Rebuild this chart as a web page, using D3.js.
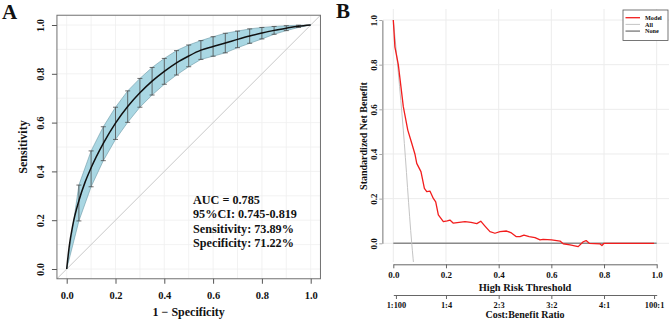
<!DOCTYPE html>
<html>
<head>
<meta charset="utf-8">
<script src="https://cdn.jsdelivr.net/npm/d3@7"></script>
<style>
body { margin: 0; background: #fff; }
text { font-family: "Liberation Serif", "Times New Roman", serif; font-weight: bold; }
</style>
</head>
<body>
<script>
// ---- panel A: ROC curve ----
var rocFpr  = [0, 0.01, 0.025, 0.05, 0.075, 0.1, 0.15, 0.2, 0.25, 0.3, 0.35, 0.4, 0.45, 0.5, 0.55, 0.6, 0.65, 0.7, 0.75, 0.8, 0.85, 0.9, 0.95, 1];
var rocSens = [0, 0.09, 0.18, 0.28, 0.355, 0.415, 0.515, 0.598, 0.666, 0.722, 0.77, 0.81, 0.845, 0.873, 0.897, 0.912, 0.926, 0.941, 0.955, 0.967, 0.978, 0.987, 0.995, 1];

// CI of sensitivity at fixed 1-specificity steps
var ciFpr   = [0, 0.05, 0.1, 0.15, 0.2, 0.25, 0.3, 0.35, 0.4, 0.45, 0.5, 0.55, 0.6, 0.65, 0.7, 0.75, 0.8, 0.85, 0.9, 0.95, 1];
var ciUpper = [0, 0.344, 0.484, 0.583, 0.663, 0.730, 0.781, 0.826, 0.863, 0.895, 0.918, 0.936, 0.952, 0.966, 0.975, 0.984, 0.990, 0.994, 0.997, 0.999, 1];
var ciLower = [0, 0.197, 0.337, 0.444, 0.531, 0.601, 0.663, 0.713, 0.757, 0.795, 0.829, 0.859, 0.872, 0.886, 0.907, 0.925, 0.943, 0.962, 0.977, 0.990, 1];

var rocTicks = [0, 0.2, 0.4, 0.6, 0.8, 1];
var rocStats = ["AUC = 0.785", "95%CI: 0.745-0.819", "Sensitivity: 73.89%", "Specificity: 71.22%"];

// ---- panel B: decision curve ----
var dcaThr = [0, 0.006, 0.019, 0.038, 0.055, 0.07, 0.082, 0.089, 0.105, 0.118, 0.127, 0.139, 0.152, 0.161, 0.171, 0.19, 0.205, 0.215, 0.228, 0.25, 0.272, 0.295, 0.317, 0.332, 0.348, 0.367, 0.386, 0.405, 0.43, 0.446, 0.466, 0.481, 0.496, 0.516, 0.538, 0.557, 0.569, 0.601, 0.633, 0.645, 0.671, 0.702, 0.721, 0.732, 0.744, 0.785, 0.792, 0.8, 0.99];
var dcaModel = [1, 0.88, 0.80, 0.612, 0.507, 0.448, 0.40, 0.358, 0.321, 0.246, 0.231, 0.234, 0.201, 0.186, 0.127, 0.097, 0.10, 0.104, 0.09, 0.094, 0.097, 0.094, 0.088, 0.099, 0.077, 0.052, 0.045, 0.052, 0.055, 0.048, 0.03, 0.03, 0.037, 0.03, 0.025, 0.015, 0.018, 0.015, 0.01, -0.002, -0.007, -0.015, 0.007, 0.012, 0, -0.003, -0.01, 0, 0];
var allThr = [0, 0.038, 0.07, 0.08];
var allNB  = [1, 0.507, 0, -0.13];
var noneThr = [0, 1];
var noneNB  = [0, 0];

var dcaTicks = [0, 0.2, 0.4, 0.6, 0.8, 1];
var cbTicks  = [0.01, 0.2, 0.4, 0.6, 0.8, 0.99];
var cbLabels = ["1:100", "1:4", "2:3", "3:2", "4:1", "100:1"];
var legendNames = ["Model", "All", "None"];

var W = 669, H = 319;
var svg = d3.select("body").append("svg")
	.attr("width", W).attr("height", H);

var fmt = d3.format(".1f");

// ================= A =================
var xA = d3.scaleLinear().domain([0, 1]).range([66.7, 310.7]);
var yA = d3.scaleLinear().domain([0, 1]).range([269, 25]);
var boxL = xA(-0.04), boxR = xA(1.04), boxT = yA(1.04), boxB = yA(-0.04);

svg.append("clipPath").attr("id", "clipA")
	.append("rect").attr("x", boxL).attr("y", boxT)
	.attr("width", boxR - boxL).attr("height", boxB - boxT);

var gA = svg.append("g");
var plotA = gA.append("g").attr("clip-path", "url(#clipA)");

// grid
var grid01 = d3.range(0, 11).map(function(i) { return i / 10; });
plotA.selectAll(".gv").data(grid01).enter().append("line")
	.attr("x1", function(d) { return xA(d); }).attr("x2", function(d) { return xA(d); })
	.attr("y1", boxT).attr("y2", boxB)
	.attr("stroke", "#efefef").attr("stroke-width", 0.8);
plotA.selectAll(".gh").data(grid01).enter().append("line")
	.attr("y1", function(d) { return yA(d); }).attr("y2", function(d) { return yA(d); })
	.attr("x1", boxL).attr("x2", boxR)
	.attr("stroke", "#efefef").attr("stroke-width", 0.8);

// diagonal
plotA.append("line")
	.attr("x1", xA(-0.04)).attr("y1", yA(-0.04))
	.attr("x2", xA(1.04)).attr("y2", yA(1.04))
	.attr("stroke", "#c8c8c8").attr("stroke-width", 1);

// CI band
var bandPts = ciFpr.map(function(f, i) { return [xA(f), yA(ciUpper[i])]; })
	.concat(ciFpr.map(function(f, i) { return [xA(f), yA(ciLower[i])]; }).reverse());
plotA.append("path")
	.attr("d", d3.line()(bandPts) + "Z")
	.attr("fill", "#a9d7e3")
	.attr("stroke", "#6c98a6").attr("stroke-width", 0.6);

// error bars
var bars = ciFpr.slice(1, ciFpr.length - 1);
var barG = plotA.selectAll(".eb").data(bars).enter().append("g")
	.attr("stroke", "#4a4a4a").attr("stroke-width", 0.8);
barG.append("line")
	.attr("x1", function(d) { return xA(d); }).attr("x2", function(d) { return xA(d); })
	.attr("y1", function(d, i) { return yA(ciUpper[i + 1]); })
	.attr("y2", function(d, i) { return yA(ciLower[i + 1]); });
barG.append("line")
	.attr("x1", function(d) { return xA(d) - 2.5; }).attr("x2", function(d) { return xA(d) + 2.5; })
	.attr("y1", function(d, i) { return yA(ciUpper[i + 1]); })
	.attr("y2", function(d, i) { return yA(ciUpper[i + 1]); });
barG.append("line")
	.attr("x1", function(d) { return xA(d) - 2.5; }).attr("x2", function(d) { return xA(d) + 2.5; })
	.attr("y1", function(d, i) { return yA(ciLower[i + 1]); })
	.attr("y2", function(d, i) { return yA(ciLower[i + 1]); });

// ROC line
plotA.append("path")
	.datum(rocFpr.map(function(f, i) { return [f, rocSens[i]]; }))
	.attr("d", d3.line()
		.x(function(d) { return xA(d[0]); })
		.y(function(d) { return yA(d[1]); })
		.curve(d3.curveMonotoneX))
	.attr("fill", "none").attr("stroke", "#111").attr("stroke-width", 1.5);

// box
gA.append("rect")
	.attr("x", boxL).attr("y", boxT)
	.attr("width", boxR - boxL).attr("height", boxB - boxT)
	.attr("fill", "none").attr("stroke", "#707070").attr("stroke-width", 1);

// axes
var axA_x = gA.append("g").attr("transform", "translate(0," + boxB + ")")
	.call(d3.axisBottom(xA).tickValues(rocTicks).tickFormat(fmt).tickSize(5).tickPadding(8).tickSizeOuter(0));
var axA_y = gA.append("g").attr("transform", "translate(" + boxL + ",0)")
	.call(d3.axisLeft(yA).tickValues(rocTicks).tickFormat(fmt).tickSize(5).tickSizeOuter(0));
[axA_x, axA_y].forEach(function(a) {
	a.select(".domain").remove();
	a.selectAll("line").attr("stroke", "#555");
	a.selectAll("text").attr("font-size", 10.5).attr("fill", "#111")
		.attr("font-family", "Liberation Serif, serif").attr("font-weight", "bold");
});
axA_y.selectAll(".tick text")
	.attr("x", null).attr("dy", null).attr("text-anchor", "middle")
	.attr("transform", "translate(-12.5,0) rotate(-90)");

gA.append("text").attr("x", xA(0.5)).attr("y", 315.5)
	.attr("text-anchor", "middle").attr("font-size", 12).attr("fill", "#111")
	.text("1 \u2212 Specificity");
gA.append("text").attr("transform", "translate(27," + yA(0.5) + ") rotate(-90)")
	.attr("text-anchor", "middle").attr("font-size", 12).attr("fill", "#111")
	.text("Sensitivity");

gA.selectAll(".stat").data(rocStats).enter().append("text")
	.attr("x", 193).attr("y", function(d, i) { return 203.5 + i * 14.6; })
	.attr("font-size", 12.2).attr("fill", "#111")
	.text(function(d) { return d; });

svg.append("text").attr("x", 2).attr("y", 19)
	.attr("font-size", 21).attr("fill", "#111").text("A");

// ================= B =================
var xB = d3.scaleLinear().domain([0, 1]).range([393.3, 656.7]);
var yB = d3.scaleLinear().domain([0, 1]).range([243.3, 20]);
var rL = 383, rR = 669, rT = 9, rB = 262;

svg.append("clipPath").attr("id", "clipB")
	.append("rect").attr("x", rL).attr("y", rT)
	.attr("width", rR - rL).attr("height", rB - rT);

var gB = svg.append("g");
var plotB = gB.append("g").attr("clip-path", "url(#clipB)");

plotB.selectAll(".gv").data(dcaTicks).enter().append("line")
	.attr("x1", function(d) { return xB(d); }).attr("x2", function(d) { return xB(d); })
	.attr("y1", rT).attr("y2", rB)
	.attr("stroke", "#ececec").attr("stroke-width", 1);
plotB.selectAll(".gh").data(dcaTicks).enter().append("line")
	.attr("y1", function(d) { return yB(d); }).attr("y2", function(d) { return yB(d); })
	.attr("x1", rL).attr("x2", rR)
	.attr("stroke", "#ececec").attr("stroke-width", 1);

var lineB = d3.line()
	.x(function(d) { return xB(d[0]); })
	.y(function(d) { return yB(d[1]); });

plotB.append("path")
	.datum(noneThr.map(function(t, i) { return [t, noneNB[i]]; }))
	.attr("d", lineB).attr("fill", "none")
	.attr("stroke", "#8a8a8a").attr("stroke-width", 1.5);
plotB.append("path")
	.datum(allThr.map(function(t, i) { return [t, allNB[i]]; }))
	.attr("d", lineB.curve(d3.curveMonotoneX)).attr("fill", "none")
	.attr("stroke", "#c4c4c4").attr("stroke-width", 1);
plotB.append("path")
	.datum(dcaThr.map(function(t, i) { return [t, dcaModel[i]]; }))
	.attr("d", lineB.curve(d3.curveLinear)).attr("fill", "none")
	.attr("stroke", "#f21d1d").attr("stroke-width", 1.3)
	.attr("stroke-linejoin", "round");

// y axis
var axB_y = gB.append("g").attr("transform", "translate(382.3,0)")
	.call(d3.axisLeft(yB).tickValues(dcaTicks).tickFormat(fmt).tickSize(3).tickSizeOuter(0));
axB_y.select(".domain").attr("stroke", "#a8a8a8").attr("stroke-width", 1.6);
axB_y.selectAll("line").attr("stroke", "#a8a8a8");
axB_y.selectAll(".tick text")
	.attr("x", null).attr("dy", null).attr("text-anchor", "middle")
	.attr("transform", "translate(-5,0) rotate(-90)");

// x axis threshold
var axB_x = gB.append("g").attr("transform", "translate(0,264.3)")
	.call(d3.axisBottom(xB).tickValues(dcaTicks).tickFormat(fmt).tickSize(4).tickPadding(3).tickSizeOuter(0));
// cost:benefit axis
var axB_cb = gB.append("g").attr("transform", "translate(0,295)")
	.call(d3.axisBottom(xB).tickValues(cbTicks)
		.tickFormat(function(d, i) { return cbLabels[i]; })
		.tickSize(4).tickPadding(3).tickSizeOuter(0));
[axB_x, axB_cb].forEach(function(a) {
	a.select(".domain").attr("stroke", "#666").attr("stroke-width", 1);
	a.selectAll("line").attr("stroke", "#666");
});
[axB_y, axB_x, axB_cb].forEach(function(a) {
	a.selectAll("text").attr("font-size", 9).attr("fill", "#111")
		.attr("font-family", "Liberation Serif, serif").attr("font-weight", "bold");
});
axB_cb.selectAll("text").attr("font-size", 8.4);

gB.append("text").attr("x", xB(0.5)).attr("y", 290.5)
	.attr("text-anchor", "middle").attr("font-size", 10.4).attr("fill", "#111")
	.text("High Risk Threshold");
gB.append("text").attr("x", xB(0.5)).attr("y", 317.8)
	.attr("text-anchor", "middle").attr("font-size", 10).attr("fill", "#111")
	.text("Cost:Benefit Ratio");
gB.append("text").attr("transform", "translate(367," + 136 + ") rotate(-90)")
	.attr("text-anchor", "middle").attr("font-size", 10).attr("fill", "#111")
	.text("Standardized Net Benefit");

// legend
var leg = gB.append("g").attr("transform", "translate(623,10)");
leg.append("rect").attr("width", 45).attr("height", 30.5)
	.attr("fill", "#fff").attr("stroke", "#555").attr("stroke-width", 0.8);
var legCol = ["#f21d1d", "#c4c4c4", "#8a8a8a"];
var legW = [1.3, 1, 1.5];
var li = leg.selectAll(".li").data(legendNames).enter().append("g")
	.attr("transform", function(d, i) { return "translate(0," + (7.7 + i * 6.7) + ")"; });
li.append("line").attr("x1", 2.5).attr("x2", 17)
	.attr("stroke", function(d, i) { return legCol[i]; })
	.attr("stroke-width", function(d, i) { return legW[i]; });
li.append("text").attr("x", 22).attr("y", 2.2)
	.attr("font-size", 6.2).attr("fill", "#111")
	.text(function(d) { return d; });

svg.append("text").attr("x", 336).attr("y", 18)
	.attr("font-size", 21).attr("fill", "#111").text("B");
</script>
</body>
</html>
